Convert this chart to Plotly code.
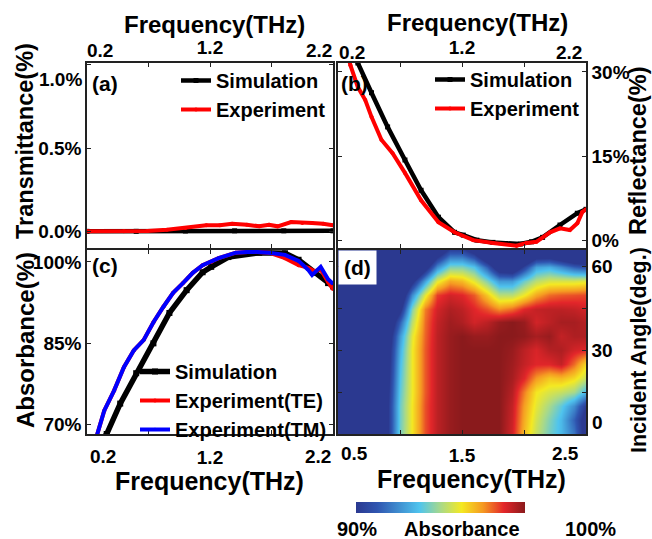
import plotly.graph_objects as go

W, H = 652, 539
FONT = "Liberation Sans"

# ---------------- data ----------------
# (a) Transmittance
a_sim_f = [0.2, 0.6, 1.0, 1.4, 1.8, 2.2]
a_sim_T = [0.0, 0.0, 0.002, 0.003, 0.003, 0.003]
a_exp_f = [0.2, 0.5, 0.69, 0.85, 1.0, 1.17, 1.28, 1.38, 1.5, 1.6, 1.68, 1.75, 1.86, 1.95, 2.03, 2.12, 2.2]
a_exp_T = [0.0, 0.0, 0.002, 0.01, 0.02, 0.036, 0.036, 0.045, 0.04, 0.03, 0.04, 0.03, 0.056, 0.05, 0.05, 0.045, 0.036]

# (b) Reflectance
b_sim_f = [0.2, 0.3, 0.36, 0.47, 0.60, 0.74, 0.87, 1.01, 1.14, 1.21, 1.32, 1.45, 1.55, 1.67, 1.76, 1.85, 1.99, 2.13, 2.2]
b_sim_R = [39, 34.5, 31.6, 26.3, 20.2, 14.3, 8.9, 4.1, 1.4, 0.9, 0.0, -0.4, -0.6, -0.7, -0.3, 0.5, 2.7, 4.8, 5.5]
b_exp_f = [0.28, 0.30, 0.36, 0.42, 0.47, 0.55, 0.64, 0.74, 0.87, 1.01, 1.14, 1.29, 1.45, 1.64, 1.72, 1.80, 1.91, 1.99, 2.07, 2.13, 2.17, 2.2]
b_exp_R = [33, 31.2, 27.3, 25, 22, 17.9, 15.5, 12, 7.1, 3.2, 1.4, 0.0, -0.5, -1.0, -0.5, -0.3, 1.4, 2.1, 1.8, 3.0, 5.0, 5.5]

# (c) Absorbance
c_sim_f = [0.33, 0.36, 0.47, 0.60, 0.74, 0.87, 1.01, 1.14, 1.21, 1.35, 1.60, 1.81, 1.92, 2.05, 2.16, 2.2]
c_sim_A = [67.5, 68.3, 73.9, 79.5, 85, 90.6, 94.8, 98.1, 99.1, 100.9, 101.7, 101.6, 100.4, 98, 96.1, 95.5]
c_te_f = [0.26, 0.28, 0.34, 0.42, 0.50, 0.58, 0.66, 0.74, 0.82, 0.90, 0.98, 1.06, 1.14, 1.21, 1.27, 1.41, 1.54, 1.68, 1.81, 1.92, 2.0, 2.05, 2.1, 2.16, 2.2]
c_te_A = [67, 68, 72.6, 76.3, 80.6, 83.7, 85.6, 88.9, 91.7, 94.3, 96.1, 98, 99.4, 100, 100.7, 101.7, 101.9, 101.7, 100.7, 99.4, 98.9, 98.3, 98.6, 96.3, 95]
c_tm_f = [0.26, 0.28, 0.34, 0.42, 0.50, 0.58, 0.66, 0.74, 0.82, 0.90, 0.98, 1.06, 1.14, 1.21, 1.27, 1.41, 1.54, 1.68, 1.81, 1.92, 2.0, 2.03, 2.1, 2.16, 2.2]
c_tm_A = [67, 68, 72.6, 76.3, 80.6, 83.7, 85.6, 88.9, 91.7, 94.3, 96.1, 98, 99.4, 100, 100.7, 101.7, 101.9, 101.7, 101.3, 100.2, 98.5, 97.6, 99.1, 96.8, 96]

# (d) Absorbance map: frequency (THz) x incident angle (deg.)
d_freq = [0.5, 0.6, 0.7, 0.8, 0.9, 1.0, 1.1, 1.2, 1.3, 1.4, 1.5, 1.6, 1.7, 1.8, 1.9, 2.0, 2.1, 2.2, 2.3, 2.4, 2.5]
d_angle = [0, 5, 10, 15, 20, 25, 30, 35, 40, 45, 50, 55, 60, 66]
d_abs = [
    [85, 85, 86, 87.5, 90, 94.3, 96.3, 98.3, 99.3, 99.8, 100, 100, 100, 100, 99, 97, 95.5, 94.3, 93.5, 92, 89],
    [85, 85, 86, 87.5, 90, 94.2, 96.3, 98.3, 99.3, 99.8, 100, 100, 100, 100, 99.1, 97.2, 95.7, 94.5, 93.5, 91.5, 89],
    [85, 85, 86, 87.5, 90, 94.2, 96.3, 98.3, 99.3, 99.8, 100, 100, 100, 100, 99.2, 97.4, 96, 95, 94, 92.5, 90],
    [85, 85, 86, 87.3, 89.8, 94, 96.2, 98.2, 99.3, 99.8, 100, 100, 100, 100, 99.4, 97.8, 96.3, 95.8, 95.5, 95, 93.5],
    [85, 85, 86, 87.2, 89.6, 93.8, 96.2, 98.2, 99.3, 99.8, 100, 100, 100, 100, 99.6, 98.8, 97.5, 96.8, 97, 96.5, 95.5],
    [85, 85, 86, 87, 89.4, 93.6, 96.2, 98.2, 99.3, 99.8, 100, 100, 100, 100, 99.7, 99.2, 98.8, 98.8, 99.2, 98, 96.5],
    [85, 85, 86, 87, 89.2, 93.3, 96.2, 98.2, 99.3, 99.8, 100, 100, 100, 100, 99.8, 99.3, 98.9, 99.4, 99.5, 99, 98.8],
    [85, 85, 85.5, 86.5, 88.8, 92.8, 96, 98.1, 99.3, 99.8, 100, 99.8, 99.8, 100, 100, 99.9, 99.6, 99.8, 99.2, 99.5, 99.5],
    [85, 85, 85.5, 86, 88, 91.5, 95.3, 98, 99.2, 99.7, 99.5, 99, 99.3, 99.8, 100, 99.8, 99, 99.3, 99.6, 99.6, 99.4],
    [85, 85, 85, 85.5, 87, 89.5, 94.5, 97.8, 99, 99.5, 99.3, 98.8, 98.3, 97.6, 98, 98.8, 99.2, 99.3, 99.3, 99.2, 99],
    [85, 85, 85, 85, 86, 88, 92.5, 96, 98.5, 99, 98.8, 98.2, 96.8, 95.3, 95.3, 96.2, 97.3, 98, 98.2, 98.3, 98.4],
    [85, 85, 85, 85, 85, 86, 89.5, 93, 96, 97.3, 97, 96, 94.5, 92.8, 92.8, 94.2, 95.3, 95.8, 95.8, 95.8, 96],
    [85, 85, 85, 85, 85, 85, 85.5, 89, 92.5, 94.5, 94.5, 93.8, 91.5, 88.5, 88, 90.5, 93, 93.3, 92.5, 91.5, 91],
    [85, 85, 85, 85, 85, 85, 85, 85, 88, 90.5, 90.5, 89, 86, 85, 85, 85, 87, 87, 86, 85, 85],
]

freq_ticks = [0.2, 0.7, 1.2, 1.7, 2.2]
freq_ticktext = ["", "", "1.2", "", ""]
d_freq_ticks = [0.5, 1.0, 1.5, 2.0, 2.5]
d_freq_ticktext = ["", "", "1.5", "", ""]
a_yticks = [0, 0.5, 1.0]
a_yticktext = ["0.0%", "0.5%", ""]
b_yticks = [0, 15, 30]
b_yticktext = ["0%", "15%", "30%"]
c_yticks = [70, 85, 100]
c_yticktext = ["70%", "85%", "100%"]
d_yticks = [0, 15, 30, 45, 60]
d_yticktext = ["", "", "30", "", "60"]

colorscale = [
    [0.0, "#2b3990"], [0.125, "#2f55b0"], [0.375, "#4fc4ee"], [0.5, "#a8d98a"],
    [0.625, "#f4e922"], [0.75, "#f59a22"], [0.875, "#e3262a"], [1.0, "#8a1a1c"],
]

# ---------------- figure ----------------
fig = go.Figure()

def line(x, y, color, width, name, symbol, msize, xa, ya, legend, show=True):
    fig.add_trace(go.Scatter(
        x=x, y=y, mode="lines+markers", name=name,
        line=dict(color=color, width=width),
        marker=dict(symbol=symbol, size=msize, color=color),
        xaxis=xa, yaxis=ya, legend=legend, showlegend=show,
    ))

line(a_sim_f, a_sim_T, "black", 4.5, "Simulation", "square", 5, "x", "y", "legend")
line(a_exp_f, a_exp_T, "#ff0000", 4, "Experiment", "circle", 4, "x", "y", "legend")
line(b_sim_f, b_sim_R, "black", 4.5, "Simulation", "square", 5, "x2", "y2", "legend2")
line(b_exp_f, b_exp_R, "#ff0000", 4, "Experiment", "circle", 4, "x2", "y2", "legend2")
line(c_sim_f, c_sim_A, "black", 5.5, "Simulation", "square", 6, "x3", "y3", "legend3")
line(c_te_f, c_te_A, "#ff0000", 4, "Experiment(TE)", "circle", 4, "x3", "y3", "legend3")
line(c_tm_f, c_tm_A, "#0000ff", 4, "Experiment(TM)", "triangle-up", 4, "x3", "y3", "legend3")

fig.add_trace(go.Heatmap(
    x=d_freq, y=d_angle, z=d_abs, zmin=90, zmax=100, zsmooth="best",
    colorscale=colorscale, xaxis="x4", yaxis="y4",
    colorbar=dict(orientation="h", x=440.5 / W, xanchor="center", y=1 - 502 / H, yanchor="top",
                  len=169 / W, lenmode="fraction", thickness=11, outlinewidth=0,
                  xpad=0, ypad=0, showticklabels=False, ticks=""),
))

def px(xp):
    return xp / W

def py(yp):
    return 1 - yp / H

tickfont = dict(family=FONT, size=19, color="black", weight="bold")
axis_common = dict(showline=True, linecolor="#222", linewidth=1.5, mirror="ticks",
                   ticks="inside", ticklen=4, tickwidth=1.3, tickcolor="#222",
                   showgrid=False, zeroline=False, tickfont=tickfont, fixedrange=True,
                   automargin=False)

dom_left = [px(87), px(333)]
dom_right = [px(338), px(586)]
dom_top = [py(248), py(63)]
dom_bot = [py(434), py(250)]

fig.update_layout(
    width=W, height=H, margin=dict(l=0, r=0, t=0, b=0, autoexpand=False),
    paper_bgcolor="white", plot_bgcolor="white",
    xaxis=dict(domain=dom_left, anchor="y", side="top", range=[0.2, 2.2],
               tickvals=freq_ticks, ticktext=freq_ticktext, **axis_common),
    yaxis=dict(domain=dom_top, anchor="x", range=[-0.1, 1.01],
               tickvals=a_yticks, ticktext=a_yticktext, **axis_common),
    xaxis2=dict(domain=dom_right, anchor="y2", side="top", range=[0.2, 2.2],
                tickvals=freq_ticks, ticktext=freq_ticktext, **axis_common),
    yaxis2=dict(domain=dom_top, anchor="x2", side="right", range=[-1.4, 31.6],
                tickvals=b_yticks, ticktext=b_yticktext, **axis_common),
    xaxis3=dict(domain=dom_left, anchor="y3", range=[0.2, 2.2], ticklabelstandoff=5,
                tickvals=freq_ticks, ticktext=freq_ticktext, **axis_common),
    yaxis3=dict(domain=dom_bot, anchor="x3", range=[68.3, 102.2],
                tickvals=c_yticks, ticktext=c_yticktext, **axis_common),
    xaxis4=dict(domain=dom_right, anchor="y4", range=[0.5, 2.5], ticklabelstandoff=3,
                tickvals=d_freq_ticks, ticktext=d_freq_ticktext, **axis_common),
    yaxis4=dict(domain=dom_bot, anchor="x4", side="right", range=[0, 66],
                tickvals=d_yticks, ticktext=d_yticktext, **axis_common),
)

legfont = dict(family=FONT, size=20, color="black", weight="bold")
leg_common = dict(bgcolor="rgba(0,0,0,0)", borderwidth=0, font=legfont,
                  xanchor="left", yanchor="top", tracegroupgap=0, itemwidth=30)
fig.update_layout(
    legend=dict(x=px(176), y=py(61), **leg_common),
    legend2=dict(x=px(430), y=py(60), **leg_common),
    legend3=dict(x=px(135), y=py(352), **leg_common),
)

ann = []

def text(t, x, y, size=21, xref="paper", yref="paper", xanchor="center", yanchor="middle",
         angle=0, xshift=0, yshift=0, **kw):
    ann.append(dict(text=t, x=x, y=y, xref=xref, yref=yref, xanchor=xanchor, yanchor=yanchor,
                    textangle=angle, xshift=xshift, yshift=yshift, showarrow=False,
                    font=dict(family=FONT, size=size, color="black", weight="bold"), **kw))

# axis titles
text("Frequency(THz)", px(214), py(24), size=24)
text("Frequency(THz)", px(477), py(22), size=24)
text("Frequency(THz)", px(209), py(481), size=25)
text("Frequency(THz)", px(471), py(479), size=25)
text("Transmittance(%)", px(25), py(141), size=23.5, angle=-90)
text("Absorbance(%)", px(25), py(340), size=24, angle=-90)
text("Reflectance(%)", px(638), py(151), size=23.5, angle=-90)
text("Incident Angle(deg.)", px(639), py(350), size=21.5, angle=-90)

# edge tick labels
text("0.2", 0.2, py(51), size=19, xref="x", xanchor="left", xshift=-2)
text("2.2", 2.2, py(51), size=19, xref="x", xanchor="right", xshift=1)
text("0.2", 0.2, py(52), size=19, xref="x2", xanchor="left", xshift=-1)
text("2.2", 2.2, py(52), size=19, xref="x2", xanchor="right", xshift=-2)
text("0.2", 0.2, py(456), size=19, xref="x3", xanchor="left", xshift=1)
text("2.2", 2.2, py(456), size=19, xref="x3", xanchor="right", xshift=0)
text("0.5", 0.5, py(453), size=19, xref="x4", xanchor="left", xshift=1)
text("2.5", 2.5, py(453), size=19, xref="x4", xanchor="right", xshift=-5)
text("1.0%", 0.2, 1.0, size=19, xref="x", yref="y", xanchor="right", xshift=-3, yshift=-15)
text("0", 2.5, 0, size=19, xref="x4", yref="y4", xanchor="left", xshift=4, yshift=12)

# panel labels
text("(a)", 0.2, 1.01, xref="x", yref="y", xanchor="left", yanchor="top", xshift=3, yshift=-7)
text("(b)", 0.2, 31.6, xref="x2", yref="y2", xanchor="left", yanchor="top", xshift=1, yshift=-7)
text("(c)", 0.2, 102.2, xref="x3", yref="y3", xanchor="left", yanchor="top", xshift=3, yshift=-2)
text("(d)", 0.5, 66, xref="x4", yref="y4", xanchor="left", yanchor="top",
     bgcolor="white", borderpad=5)

# colorbar labels
text("90%", px(357), py(529), size=20)
text("Absorbance", px(462), py(529), size=20)
text("100%", px(590), py(529), size=20)

fig.update_layout(annotations=ann)

fig.write_html("out.html", config={"displayModeBar": False},
               post_script="document.body.style.margin='0px';")
